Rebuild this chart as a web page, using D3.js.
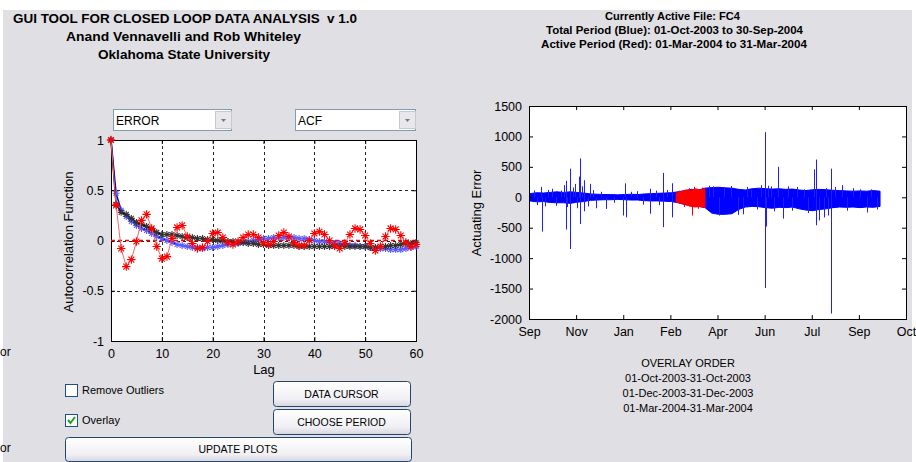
<!DOCTYPE html>
<html>
<head>
<meta charset="utf-8">
<script src="https://cdn.jsdelivr.net/npm/d3@7"></script>
<style>
  body { margin: 0; background: #fff; }
  text { font-family: "Liberation Sans", Arial, sans-serif; fill: #000; }
</style>
</head>
<body>
<div id="fig"></div>
<script>
var width = 916, height = 462;

// ---- ACF panel data (lags 0..60) ----
var lags = d3.range(0, 61);
var acfBlue = [1, 0.47, 0.30, 0.24, 0.19, 0.15, 0.12, 0.10, 0.07, 0.04,
  0.02, 0.0, -0.02, -0.04, -0.05, -0.06, -0.07, -0.07, -0.08, -0.07,
  -0.07, -0.06, -0.05, -0.04, -0.03, -0.03, -0.02, -0.01, 0.0, 0.01,
  0.02, 0.02, 0.03, 0.03, 0.03, 0.03, 0.03, 0.02, 0.02, 0.01,
  0.0, -0.01, -0.01, -0.02, -0.03, -0.03, -0.04, -0.05, -0.05, -0.06,
  -0.06, -0.07, -0.07, -0.08, -0.08, -0.09, -0.09, -0.09, -0.08, -0.07, -0.06];
var acfBlack = [1, 0.36, 0.28, 0.26, 0.22, 0.18, 0.16, 0.14, 0.11, 0.08,
  0.06, 0.06, 0.06, 0.05, 0.04, 0.03, 0.03, 0.02, 0.02, 0.01,
  0.01, 0.0, 0.0, -0.01, -0.01, -0.02, -0.02, -0.03, -0.03, -0.04,
  -0.04, -0.05, -0.05, -0.05, -0.05, -0.05, -0.05, -0.06, -0.06, -0.06,
  -0.06, -0.06, -0.06, -0.06, -0.06, -0.06, -0.06, -0.06, -0.06, -0.06,
  -0.06, -0.07, -0.07, -0.06, -0.06, -0.05, -0.05, -0.04, -0.03, -0.03, -0.02];
var acfRed = [1, 0.35, -0.08, -0.26, -0.19, -0.01, 0.20, 0.26, 0.12, -0.06,
  -0.18, -0.16, 0.02, 0.13, 0.15, 0.04, -0.03, -0.08, -0.07, -0.01,
  0.07, 0.08, 0.03, -0.02, -0.04, -0.01, 0.03, 0.06, 0.06, 0.03,
  -0.02, -0.04, -0.01, 0.05, 0.08, 0.04, -0.02, -0.05, -0.05, 0.0,
  0.07, 0.09, 0.06, 0.0, -0.05, -0.08, -0.03, 0.06, 0.12, 0.11,
  0.05, -0.03, -0.10, -0.06, 0.04, 0.12, 0.11, 0.05, -0.02, -0.06, -0.04];
var lagTicks = [0, 10, 20, 30, 40, 50, 60];
var acfTicks = [-1, -0.5, 0, 0.5, 1];

// ---- actuating error panel data ----
// weekly envelope of the dense signal, starting 01-Oct-2003
var bandStart = "2003-10-01";
var bandHi = [60, 75, 70, 80, 90,  80, 90, 80, 70,  55, 50, 45, 45, 40,
  45, 50, 45, 55, 60,  65, 70, 75,  90, 110, 130, 120, 150,
  160, 165, 155, 150,  130, 120, 140, 150,  140, 135, 140, 130, 135,
  120, 110, 125, 130,  125, 115, 110, 105,  100, 105, 100, 110, 100];
var bandLo = [-60, -75, -70, -85, -90,  -90, -100, -80, -70,  -50, -45, -40, -40, -35,
  -40, -45, -45, -55, -60,  -60, -65, -70,  -90, -120, -140, -150, -170,
  -260, -280, -280, -270,  -200, -160, -150, -155,  -170, -180, -165, -170, -160,
  -190, -210, -220, -200,  -190, -170, -160, -165,  -160, -170, -160, -165, -150];
// active period (red), 01-Mar-2004 .. 31-Mar-2004
var redDates = ["2004-03-01", "2004-03-06", "2004-03-11", "2004-03-16", "2004-03-21", "2004-03-26", "2004-03-31"];
var redHi = [70, 90, 120, 110, 140, 120, 140];
var redLo = [-80, -100, -120, -150, -160, -150, -170];
var redSpikes = [["2004-03-04", 110], ["2004-03-09", -160], ["2004-03-14", 150], ["2004-03-17", -300],
  ["2004-03-20", 170], ["2004-03-24", -190], ["2004-03-28", 160]];
var blueSpikes = [
  ["2003-10-05", 110], ["2003-10-08", -130], ["2003-10-12", 170], ["2003-10-13", -565],
  ["2003-10-17", -150], ["2003-10-20", 120], ["2003-10-24", 140], ["2003-10-28", -140],
  ["2003-11-02", 110], ["2003-11-05", 200], ["2003-11-07", 270], ["2003-11-07", -530],
  ["2003-11-09", -160], ["2003-11-12", 470], ["2003-11-12", -850], ["2003-11-15", 160],
  ["2003-11-17", 220], ["2003-11-19", -180], ["2003-11-21", 340], ["2003-11-22", 640],
  ["2003-11-22", -440], ["2003-11-24", 180], ["2003-11-26", 280], ["2003-11-26", -230],
  ["2003-11-30", -150], ["2003-12-02", 220], ["2003-12-06", 120], ["2003-12-09", -180],
  ["2003-12-14", 90], ["2003-12-19", -190], ["2003-12-27", -90], ["2004-01-06", -300],
  ["2004-01-08", 230], ["2004-01-09", -330], ["2004-01-14", 90], ["2004-01-20", 100],
  ["2004-01-27", -120], ["2004-02-03", 140], ["2004-02-03", -270], ["2004-02-09", 110],
  ["2004-02-12", -130], ["2004-02-16", 400], ["2004-02-16", -490], ["2004-02-21", 120],
  ["2004-02-26", 230], ["2004-02-26", -330], ["2004-04-04", 190], ["2004-04-08", 180],
  ["2004-04-15", -300], ["2004-04-20", 170], ["2004-04-27", 185], ["2004-05-04", -290],
  ["2004-05-10", -280], ["2004-05-14", 170], ["2004-05-18", 120], ["2004-05-24", -200],
  ["2004-05-28", 200], ["2004-06-01", 1070], ["2004-06-01", -1490], ["2004-06-02", -480],
  ["2004-06-05", 190], ["2004-06-08", 180], ["2004-06-11", -230], ["2004-06-15", 500],
  ["2004-06-20", -350], ["2004-06-25", 180], ["2004-06-29", -220], ["2004-07-05", 170],
  ["2004-07-12", 130], ["2004-07-16", -260], ["2004-07-22", 460], ["2004-07-24", 620],
  ["2004-07-24", -460], ["2004-07-28", -380], ["2004-08-02", -330], ["2004-08-04", 150],
  ["2004-08-06", -300], ["2004-08-09", 470], ["2004-08-09", -1910], ["2004-08-13", 170],
  ["2004-08-20", 200], ["2004-08-26", -220], ["2004-09-01", 150], ["2004-09-08", 130],
  ["2004-09-15", -250], ["2004-09-20", 130], ["2004-09-26", -200]];
var timeTicks = ["2003-09-30", "2003-11-18", "2004-01-06", "2004-02-24", "2004-04-13",
  "2004-06-01", "2004-07-20", "2004-09-07", "2004-10-26"];
var errTicks = [-2000, -1500, -1000, -500, 0, 500, 1000, 1500];

var overlayOrder = ["01-Oct-2003-31-Oct-2003", "01-Dec-2003-31-Dec-2003", "01-Mar-2004-31-Mar-2004"];

var parse = d3.timeParse("%Y-%m-%d");

var svg = d3.select("#fig").append("svg")
  .attr("width", width).attr("height", height);

// figure background (window grey, white strip at the top)
svg.append("rect").attr("x", 3).attr("y", 10).attr("width", 909).attr("height", 452).attr("fill", "#e0dfe3");

// ---- header texts ----
function fitText(x, y, str, len, size) {
  return svg.append("text").attr("x", x).attr("y", y)
    .attr("font-size", size).attr("font-weight", "bold")
    .attr("textLength", len).attr("lengthAdjust", "spacingAndGlyphs")
    .text(str);
}
fitText(13, 23, "GUI TOOL FOR CLOSED LOOP DATA ANALYSIS\u00a0 v 1.0", 344, 13);
fitText(66, 41, "Anand Vennavelli and Rob Whiteley", 235, 13);
fitText(98, 59, "Oklahoma State University", 172, 13);
fitText(605, 20, "Currently Active File: FC4", 135, 11.5);
fitText(546, 34, "Total Period (Blue): 01-Oct-2003 to 30-Sep-2004", 257, 11.5);
fitText(541, 48, "Active Period (Red): 01-Mar-2004 to 31-Mar-2004", 266, 11.5);

// labels at the left edge (mostly outside the window in the original)
svg.append("text").attr("x", 0).attr("y", 356).attr("font-size", 12).text("or");
svg.append("text").attr("x", 0).attr("y", 452).attr("font-size", 12).text("or");

// ---- popup menus ----
function popup(x, y, w, label) {
  var g = svg.append("g");
  g.append("rect").attr("x", x + 0.5).attr("y", y + 0.5).attr("width", w).attr("height", 21)
    .attr("fill", "#fff").attr("stroke", "#7f9db9");
  g.append("rect").attr("x", x + w - 15.5).attr("y", y + 2.5).attr("width", 16).attr("height", 17)
    .attr("fill", "#e8e8ec").attr("stroke", "#c8c8d0");
  g.append("path").attr("d", "M" + (x + w - 10) + "," + (y + 10) + " l5,0 l-2.5,3 z").attr("fill", "#777");
  g.append("text").attr("x", x + 3).attr("y", y + 16).attr("font-size", 12).text(label);
}
popup(113, 109, 118, "ERROR");
popup(295, 109, 120, "ACF");

// ---- ACF axes ----
var ax = d3.scaleLinear().domain([0, 60]).range([111, 416]);
var ay = d3.scaleLinear().domain([-1, 1]).range([341, 140]);
var acf = svg.append("g");
acf.append("rect").attr("x", 111).attr("y", 140).attr("width", 305).attr("height", 201).attr("fill", "#fff");

var grid = acf.append("g").attr("stroke", "#222").attr("stroke-dasharray", "3,3").attr("stroke-width", 1);
grid.selectAll(".gx").data(lagTicks.slice(1, -1)).enter().append("line")
  .attr("x1", d => Math.round(ax(d)) + 0.5).attr("x2", d => Math.round(ax(d)) + 0.5)
  .attr("y1", 140).attr("y2", 341);
grid.selectAll(".gy").data(acfTicks.slice(1, -1)).enter().append("line")
  .attr("y1", d => Math.round(ay(d)) + 0.5).attr("y2", d => Math.round(ay(d)) + 0.5)
  .attr("x1", 111).attr("x2", 416);

function boxAxes(g, xs, ys, xt, yt, xfmt, yfmt, size) {
  var x0 = xs.range()[0], x1 = xs.range()[1], y0 = ys.range()[0], y1 = ys.range()[1];
  g.append("g").attr("transform", "translate(0," + y0 + ")")
    .call(d3.axisBottom(xs).tickValues(xt).tickSize(-4).tickPadding(8).tickFormat(xfmt));
  g.append("g").attr("transform", "translate(0," + y1 + ")")
    .call(d3.axisTop(xs).tickValues(xt).tickSize(-4).tickFormat(""));
  g.append("g").attr("transform", "translate(" + x0 + ",0)")
    .call(d3.axisLeft(ys).tickValues(yt).tickSize(-4).tickPadding(7).tickFormat(yfmt));
  g.append("g").attr("transform", "translate(" + x1 + ",0)")
    .call(d3.axisRight(ys).tickValues(yt).tickSize(-4).tickFormat(""));
  g.selectAll(".domain").remove();
  g.selectAll(".tick line").attr("stroke", "#000");
  g.selectAll(".tick text").attr("font-size", size).attr("font-family", "'Liberation Sans', Arial, sans-serif");
  g.append("rect").attr("x", x0 + 0.5).attr("y", y1 + 0.5).attr("width", x1 - x0).attr("height", y0 - y1)
    .attr("fill", "none").attr("stroke", "#000");
}
boxAxes(acf, ax, ay, lagTicks, acfTicks, d => String(d), d => String(d), 12.5);

// red dashed zero line
acf.append("line").attr("x1", ax(0)).attr("x2", ax(60)).attr("y1", ay(0)).attr("y2", ay(0))
  .attr("stroke", "#ff0000").attr("stroke-width", 1.5).attr("stroke-dasharray", "4,3");

function star(s) {
  var k = s * 0.7;
  return "M0," + (-s) + "L0," + s + "M" + (-s) + ",0L" + s + ",0" +
    "M" + (-k) + "," + (-k) + "L" + k + "," + k + "M" + (-k) + "," + k + "L" + k + "," + (-k);
}
function acfSeries(vals, lineColor, markColor, size, lw) {
  var line = d3.line().x((d, i) => ax(lags[i])).y(d => ay(d));
  acf.append("path").datum(vals).attr("d", line).attr("fill", "none")
    .attr("stroke", lineColor).attr("stroke-width", lw);
  acf.append("g").selectAll("path").data(vals).enter().append("path")
    .attr("transform", (d, i) => "translate(" + ax(lags[i]) + "," + ay(d) + ")")
    .attr("d", star(size)).attr("fill", "none").attr("stroke", markColor).attr("stroke-width", 1.1);
}
acfSeries(acfBlue, "#0000ff", "#5c5cff", 3.5, 1.5);
acfSeries(acfBlack, "#000", "#333", 3.5, 1.5);
acfSeries(acfRed, "#ff6060", "#ff0000", 4.2, 1);

acf.append("text").attr("x", 264).attr("y", 374).attr("text-anchor", "middle").attr("font-size", 13).text("Lag");
acf.append("text").attr("transform", "translate(73,242) rotate(-90)").attr("text-anchor", "middle")
  .attr("font-size", 13).text("Autocorrelation Function");

// ---- Actuating error axes ----
var tx = d3.scaleTime().domain([parse(timeTicks[0]), parse(timeTicks[timeTicks.length - 1])]).range([529, 906]);
var ty = d3.scaleLinear().domain([-2000, 1500]).range([319, 106]);
var err = svg.append("g");
err.append("rect").attr("x", 529).attr("y", 106).attr("width", 377).attr("height", 213).attr("fill", "#fff");

var day0 = parse(bandStart);
var bandDates = bandHi.map((d, i) => d3.timeDay.offset(day0, i * 7));
var area = d3.area().x(d => tx(d[0])).y0(d => ty(d[2])).y1(d => ty(d[1]));
err.append("path").datum(bandDates.map((d, i) => [d, bandHi[i], bandLo[i]]))
  .attr("d", area).attr("fill", "#0000ff").attr("stroke", "#0000ff").attr("stroke-width", 1);
err.append("g").selectAll("line").data(blueSpikes).enter().append("line")
  .attr("x1", d => Math.round(tx(parse(d[0]))) + 0.5).attr("x2", d => Math.round(tx(parse(d[0]))) + 0.5)
  .attr("y1", ty(0)).attr("y2", d => ty(d[1])).attr("stroke", "#2020ff").attr("stroke-width", 1);
err.append("path").datum(redDates.map((d, i) => [parse(d), redHi[i], redLo[i]]))
  .attr("d", area).attr("fill", "#ff0000").attr("stroke", "#ff0000").attr("stroke-width", 1);
err.append("g").selectAll("line").data(redSpikes).enter().append("line")
  .attr("x1", d => Math.round(tx(parse(d[0]))) + 0.5).attr("x2", d => Math.round(tx(parse(d[0]))) + 0.5)
  .attr("y1", ty(0)).attr("y2", d => ty(d[1])).attr("stroke", "#ff0000").attr("stroke-width", 1);

boxAxes(err, tx, ty, timeTicks.map(parse), errTicks, d3.timeFormat("%b"), d => String(d), 12.5);
err.append("text").attr("transform", "translate(481,213) rotate(-90)").attr("text-anchor", "middle")
  .attr("font-size", 13).text("Actuating Error");

// overlay order list
svg.append("text").attr("x", 688).attr("y", 367).attr("text-anchor", "middle").attr("font-size", 11).text("OVERLAY ORDER");
svg.selectAll(".ov").data(overlayOrder).enter().append("text")
  .attr("x", 688).attr("y", (d, i) => 382 + i * 15).attr("text-anchor", "middle").attr("font-size", 11).text(d => d);

// ---- controls ----
var defs = svg.append("defs");
var grad = defs.append("linearGradient").attr("id", "btn").attr("x1", 0).attr("y1", 0).attr("x2", 0).attr("y2", 1);
grad.append("stop").attr("offset", "0%").attr("stop-color", "#ffffff");
grad.append("stop").attr("offset", "70%").attr("stop-color", "#f0f0f4");
grad.append("stop").attr("offset", "100%").attr("stop-color", "#d6d6e0");
function button(x, y, w, h, label) {
  svg.append("rect").attr("x", x + 0.5).attr("y", y + 0.5).attr("width", w).attr("height", h).attr("rx", 3)
    .attr("fill", "url(#btn)").attr("stroke", "#27456b");
  svg.append("text").attr("x", x + w / 2).attr("y", y + h / 2 + 4).attr("text-anchor", "middle")
    .attr("font-size", 10.5).text(label);
}
button(273, 381, 137, 25, "DATA CURSOR");
button(273, 409, 137, 25, "CHOOSE PERIOD");
button(65, 437, 346, 24, "UPDATE PLOTS");

function checkbox(x, y, label, checked) {
  svg.append("rect").attr("x", x + 0.5).attr("y", y + 0.5).attr("width", 12).attr("height", 12)
    .attr("fill", "#fff").attr("stroke", "#1c5180");
  if (checked) {
    svg.append("path").attr("d", "M" + (x + 3) + "," + (y + 6) + " l2.5,3 l4.5,-6")
      .attr("fill", "none").attr("stroke", "#21a121").attr("stroke-width", 2);
  }
  svg.append("text").attr("x", x + 17).attr("y", y + 10).attr("font-size", 11).text(label);
}
checkbox(65, 384, "Remove Outliers", false);
checkbox(65, 414, "Overlay", true);
</script>
</body>
</html>
